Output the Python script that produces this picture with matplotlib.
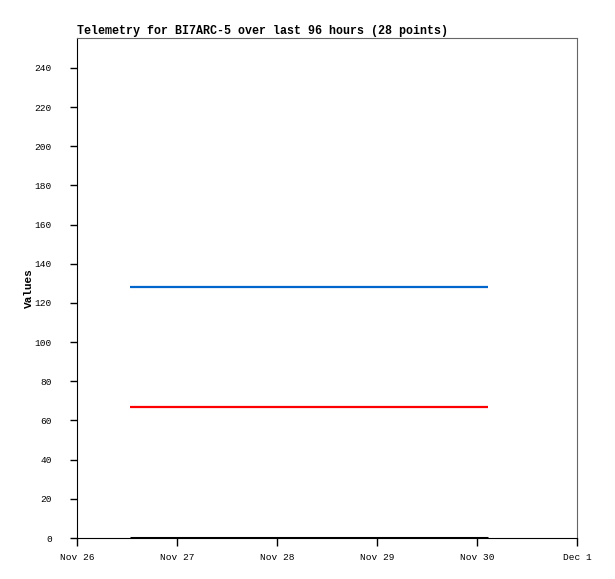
import matplotlib
matplotlib.use("Agg")
import matplotlib.pyplot as plt
from datetime import datetime, timedelta

base = datetime(2024, 11, 26)
hours = [12.7, 15.9, 19.1, 22.2, 25.4, 28.6, 31.8, 35.0, 38.2, 41.4,
         44.5, 47.7, 50.9, 54.1, 57.3, 60.5, 63.7, 66.8, 70.0, 73.2,
         76.4, 79.6, 82.8, 86.0, 89.1, 92.3, 95.5, 98.6]
series_blue = [128] * 28
series_red = [67] * 28
series_black = [0] * 28
times = [base + timedelta(hours=h) for h in hours]

xticks = [base + timedelta(days=d) for d in range(6)]
xtick_labels = ["Nov 26", "Nov 27", "Nov 28", "Nov 29", "Nov 30", "Dec 1"]
yticks = list(range(0, 241, 20))

fig = plt.figure(figsize=(6.15, 5.79), dpi=100)
ax = fig.add_axes([77/615, 41/579, 500/615, 500/579])

kw = dict(lw=1.6, solid_capstyle="butt")
ax.plot(times, series_blue, color="#0066cc", **kw)
ax.plot(times, series_red, color="#ff0000", **kw)
ax.plot(times, series_black, color="#000000", lw=2.2, solid_capstyle="butt")

ax.set_xlim(xticks[0], xticks[-1])
ax.set_ylim(0, 255.3)
ax.set_xticks(xticks)
ax.set_xticklabels(xtick_labels)
ax.set_yticks(yticks)

mono = "Liberation Mono"
for lab in ax.get_xticklabels() + ax.get_yticklabels():
    lab.set_family(mono)
    lab.set_fontsize(6.8)
ax.tick_params(axis="y", direction="out", length=5, width=1, color="black", pad=13)
ax.tick_params(axis="x", direction="out", length=6, width=1, color="black", pad=5)

ax.spines["left"].set_color("black")
ax.spines["bottom"].set_color("black")
ax.spines["top"].set_color("#666666")
ax.spines["right"].set_color("#666666")

ax.set_ylabel("Values", family=mono, fontweight="bold", fontsize=8, labelpad=0.5)
fig.text(77/615, 1 - 31/579, "Telemetry for BI7ARC-5 over last 96 hours (28 points)",
         family=mono, fontweight="bold", fontsize=8.35, ha="left", va="center")

fig.savefig("out.png", dpi=100)
